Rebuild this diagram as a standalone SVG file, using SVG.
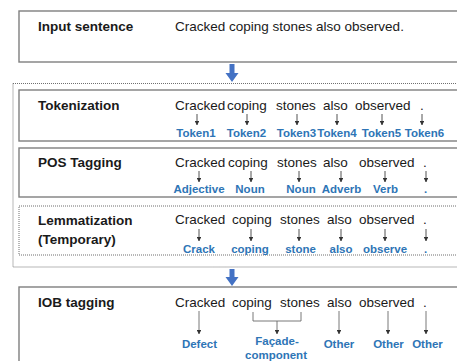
<svg xmlns="http://www.w3.org/2000/svg" width="457" height="361" viewBox="0 0 457 361">
  <style>
    .title { font-family: "Liberation Sans", Arial, sans-serif; font-size: 13.5px; font-weight: bold; fill: #1a1a1a; }
    .word { font-family: "Liberation Sans", Arial, sans-serif; font-size: 13.5px; fill: #1a1a1a; }
    .tag { font-family: "Liberation Sans", Arial, sans-serif; font-size: 11.5px; font-weight: bold; fill: #2E75B6; text-anchor: middle; }
    .box { fill: #ffffff; stroke: #7f7f7f; stroke-width: 1.4; }
    .dotbox { fill: none; stroke: #6f6f6f; stroke-width: 1; stroke-dasharray: 1 1; }
    .small { stroke: #404040; stroke-width: 0.9; fill: none; marker-end: url(#tip); }
    .long { stroke: #6a6a6a; stroke-width: 0.9; fill: none; marker-end: url(#tip); }
    .brace { stroke: #6a6a6a; stroke-width: 0.9; fill: none; }
    .flow { fill: #4472C4; }
  </style>
  <defs>
    <marker id="tip" viewBox="0 0 6 6" refX="5.5" refY="3" markerWidth="4.5" markerHeight="4.5" markerUnits="userSpaceOnUse" orient="auto">
      <path d="M0,0 L6,3 L0,6 Z" fill="#333333"/>
    </marker>
  </defs>

  <rect width="457" height="361" fill="#ffffff"/>

  <!-- input sentence -->
  <g id="input">
    <rect class="box" x="19" y="11" width="460" height="51"/>
    <text class="title" x="38" y="31">Input sentence</text>
    <text class="word" x="175" y="31">Cracked coping stones also observed.</text>
  </g>

  <!-- preprocessing group -->
  <g id="preprocessing">
    <rect class="dotbox" x="13" y="83.5" width="470" height="183.5"/>
  </g>

  <g id="tokenization">
    <rect class="box" x="19" y="90" width="460" height="51"/>
    <text class="title" x="38" y="110">Tokenization</text>
    <text class="word" x="175" y="110">Cracked</text>
    <text class="word" x="227" y="110">coping</text>
    <text class="word" x="276" y="110">stones</text>
    <text class="word" x="323" y="110">also</text>
    <text class="word" x="355" y="110">observed</text>
    <text class="word" x="420" y="110">.</text>
    <text class="tag" x="196" y="137">Token1</text>
    <text class="tag" x="246.5" y="137">Token2</text>
    <text class="tag" x="296.5" y="137">Token3</text>
    <text class="tag" x="337" y="137">Token4</text>
    <text class="tag" x="381.5" y="137">Token5</text>
    <text class="tag" x="424.5" y="137">Token6</text>
  </g>

  <g id="pos-tagging">
    <rect class="box" x="19" y="148" width="460" height="49"/>
    <text class="title" x="38" y="167">POS Tagging</text>
    <text class="word" x="175" y="167">Cracked</text>
    <text class="word" x="228" y="167">coping</text>
    <text class="word" x="277" y="167">stones</text>
    <text class="word" x="323" y="167">also</text>
    <text class="word" x="359" y="167">observed</text>
    <text class="word" x="423" y="167">.</text>
    <text class="tag" x="199" y="193">Adjective</text>
    <text class="tag" x="250" y="193">Noun</text>
    <text class="tag" x="301" y="193">Noun</text>
    <text class="tag" x="341.5" y="193">Adverb</text>
    <text class="tag" x="385.5" y="193">Verb</text>
    <text class="tag" x="425.5" y="193">.</text>
  </g>

  <g id="lemmatization">
    <rect class="dotbox" x="19" y="206" width="460" height="49"/>
    <text class="title" x="38" y="225">Lemmatization</text>
    <text class="title" x="38" y="244">(Temporary)</text>
    <text class="word" x="175" y="224">Cracked</text>
    <text class="word" x="232" y="224">coping</text>
    <text class="word" x="280" y="224">stones</text>
    <text class="word" x="327" y="224">also</text>
    <text class="word" x="359" y="224">observed</text>
    <text class="word" x="423" y="224">.</text>
    <text class="tag" x="199" y="253">Crack</text>
    <text class="tag" x="250" y="253">coping</text>
    <text class="tag" x="300.5" y="253">stone</text>
    <text class="tag" x="341" y="253">also</text>
    <text class="tag" x="385" y="253">observe</text>
    <text class="tag" x="425.5" y="253">.</text>
  </g>

  <g id="iob-tagging">
    <rect class="box" x="19" y="287" width="460" height="90"/>
    <text class="title" x="38" y="307">IOB tagging</text>
    <text class="word" x="175" y="307">Cracked</text>
    <text class="word" x="232" y="307">coping</text>
    <text class="word" x="280" y="307">stones</text>
    <text class="word" x="327" y="307">also</text>
    <text class="word" x="359" y="307">observed</text>
    <text class="word" x="423" y="307">.</text>
    <text class="tag" x="199.5" y="348">Defect</text>
    <text class="tag" x="277" y="345">Façade-</text>
    <text class="tag" x="276" y="359">component</text>
    <text class="tag" x="339" y="348">Other</text>
    <text class="tag" x="388.5" y="348">Other</text>
    <text class="tag" x="427.5" y="348">Other</text>
  </g>

  <!-- connectors -->
  <g id="connectors">
    <!-- stage-to-stage flow arrows -->
    <path class="flow" d="M229.5,64 H234.5 V73 H238.5 L232,82 L225.5,73 H229.5 Z"/>
    <path class="flow" d="M229.5,269 H234.5 V277 H238.5 L232,286 L225.5,277 H229.5 Z"/>

    <!-- tokenization -->
    <line class="small" x1="197" y1="114" x2="197" y2="125"/>
    <line class="small" x1="247" y1="114" x2="247" y2="125"/>
    <line class="small" x1="297" y1="114" x2="297" y2="125"/>
    <line class="small" x1="337" y1="114" x2="337" y2="125"/>
    <line class="small" x1="382" y1="114" x2="382" y2="125"/>
    <line class="small" x1="422" y1="114" x2="422" y2="125"/>

    <!-- POS tagging -->
    <line class="small" x1="199" y1="171" x2="199" y2="182"/>
    <line class="small" x1="251" y1="171" x2="251" y2="182"/>
    <line class="small" x1="299" y1="171" x2="299" y2="182"/>
    <line class="small" x1="341" y1="171" x2="341" y2="182"/>
    <line class="small" x1="385" y1="171" x2="385" y2="182"/>
    <line class="small" x1="426" y1="171" x2="426" y2="182"/>

    <!-- lemmatization -->
    <line class="small" x1="199" y1="229" x2="199" y2="241"/>
    <line class="small" x1="251" y1="229" x2="251" y2="241"/>
    <line class="small" x1="299" y1="229" x2="299" y2="241"/>
    <line class="small" x1="341" y1="229" x2="341" y2="241"/>
    <line class="small" x1="385" y1="229" x2="385" y2="241"/>
    <line class="small" x1="426" y1="229" x2="426" y2="241"/>

    <!-- IOB tagging -->
    <line class="long" x1="199" y1="311" x2="199" y2="334"/>
    <path class="brace" d="M253,312 V321 H301 V312"/>
    <line class="long" x1="277" y1="321" x2="277" y2="334"/>
    <line class="long" x1="339" y1="311" x2="339" y2="334"/>
    <line class="long" x1="388" y1="311" x2="388" y2="334"/>
    <line class="long" x1="426" y1="311" x2="426" y2="334"/>
  </g>
</svg>
